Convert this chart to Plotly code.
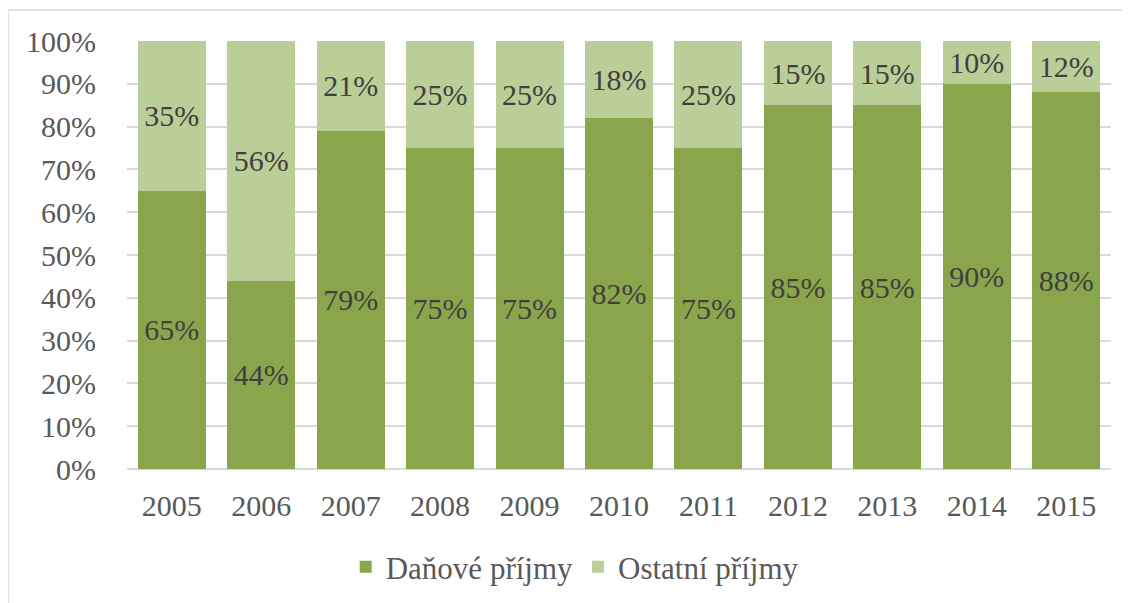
import plotly.graph_objects as go

years = ['2005', '2006', '2007', '2008', '2009', '2010', '2011', '2012', '2013', '2014', '2015']
danove = [65, 44, 79, 75, 75, 82, 75, 85, 85, 90, 88]
ostatni = [35, 56, 21, 25, 25, 18, 25, 15, 15, 10, 12]
y_ticks = [0, 10, 20, 30, 40, 50, 60, 70, 80, 90, 100]

FONT = '"Times New Roman", "Liberation Serif", serif'

fig = go.Figure()
fig.add_trace(go.Bar(
    x=years, y=danove, name='Daňové příjmy',
    marker=dict(color='#8aa64c', line=dict(width=0)),
    text=[f'{v}%' for v in danove], textposition='inside',
    insidetextanchor='middle',
    textfont=dict(family=FONT, size=30, color='#404040'),
))
fig.add_trace(go.Bar(
    x=years, y=ostatni, name='Ostatní příjmy',
    marker=dict(color='#bacf97', line=dict(width=0)),
    text=[f'{v}%' for v in ostatni], textposition='inside',
    insidetextanchor='middle',
    textfont=dict(family=FONT, size=30, color='#404040'),
))

# page body has an 8px margin, so the figure is 8px smaller than the window
fig.update_layout(
    barmode='stack',
    bargap=0.24,
    width=1122, height=595,
    margin=dict(l=119, r=19, t=33, b=134, autoexpand=False),
    paper_bgcolor='white', plot_bgcolor='white',
    font=dict(family=FONT, size=30, color='#595959'),
    uniformtext=dict(mode='show', minsize=20),
    legend=dict(orientation='h', x=0.455, xanchor='center', y=-0.229, yanchor='middle',
                font=dict(family=FONT, size=31, color='#595959'), traceorder='normal',
                itemwidth=30),
    xaxis=dict(showgrid=False, showline=False, ticks='', ticklabelstandoff=16,
               automargin=False, tickfont=dict(family=FONT, size=30, color='#595959')),
    yaxis=dict(range=[0, 100], tickvals=y_ticks, ticktext=[f'{v}%' for v in y_ticks],
               showgrid=True, gridcolor='#d9d9d9', gridwidth=1.5, zeroline=True,
               zerolinecolor='#d9d9d9', zerolinewidth=1.5, ticks='', automargin=False,
               ticklabelstandoff=30, tickfont=dict(family=FONT, size=30, color='#595959')),
    shapes=[dict(type='rect', xref='paper', yref='paper',
                 x0=(0 - 119) / 984, x1=1.2, y0=-0.6, y1=1 + (33 - 2) / 428,
                 line=dict(color='#d9d9d9', width=1.5), layer='below')],
)

fig.write_html('out.html')
